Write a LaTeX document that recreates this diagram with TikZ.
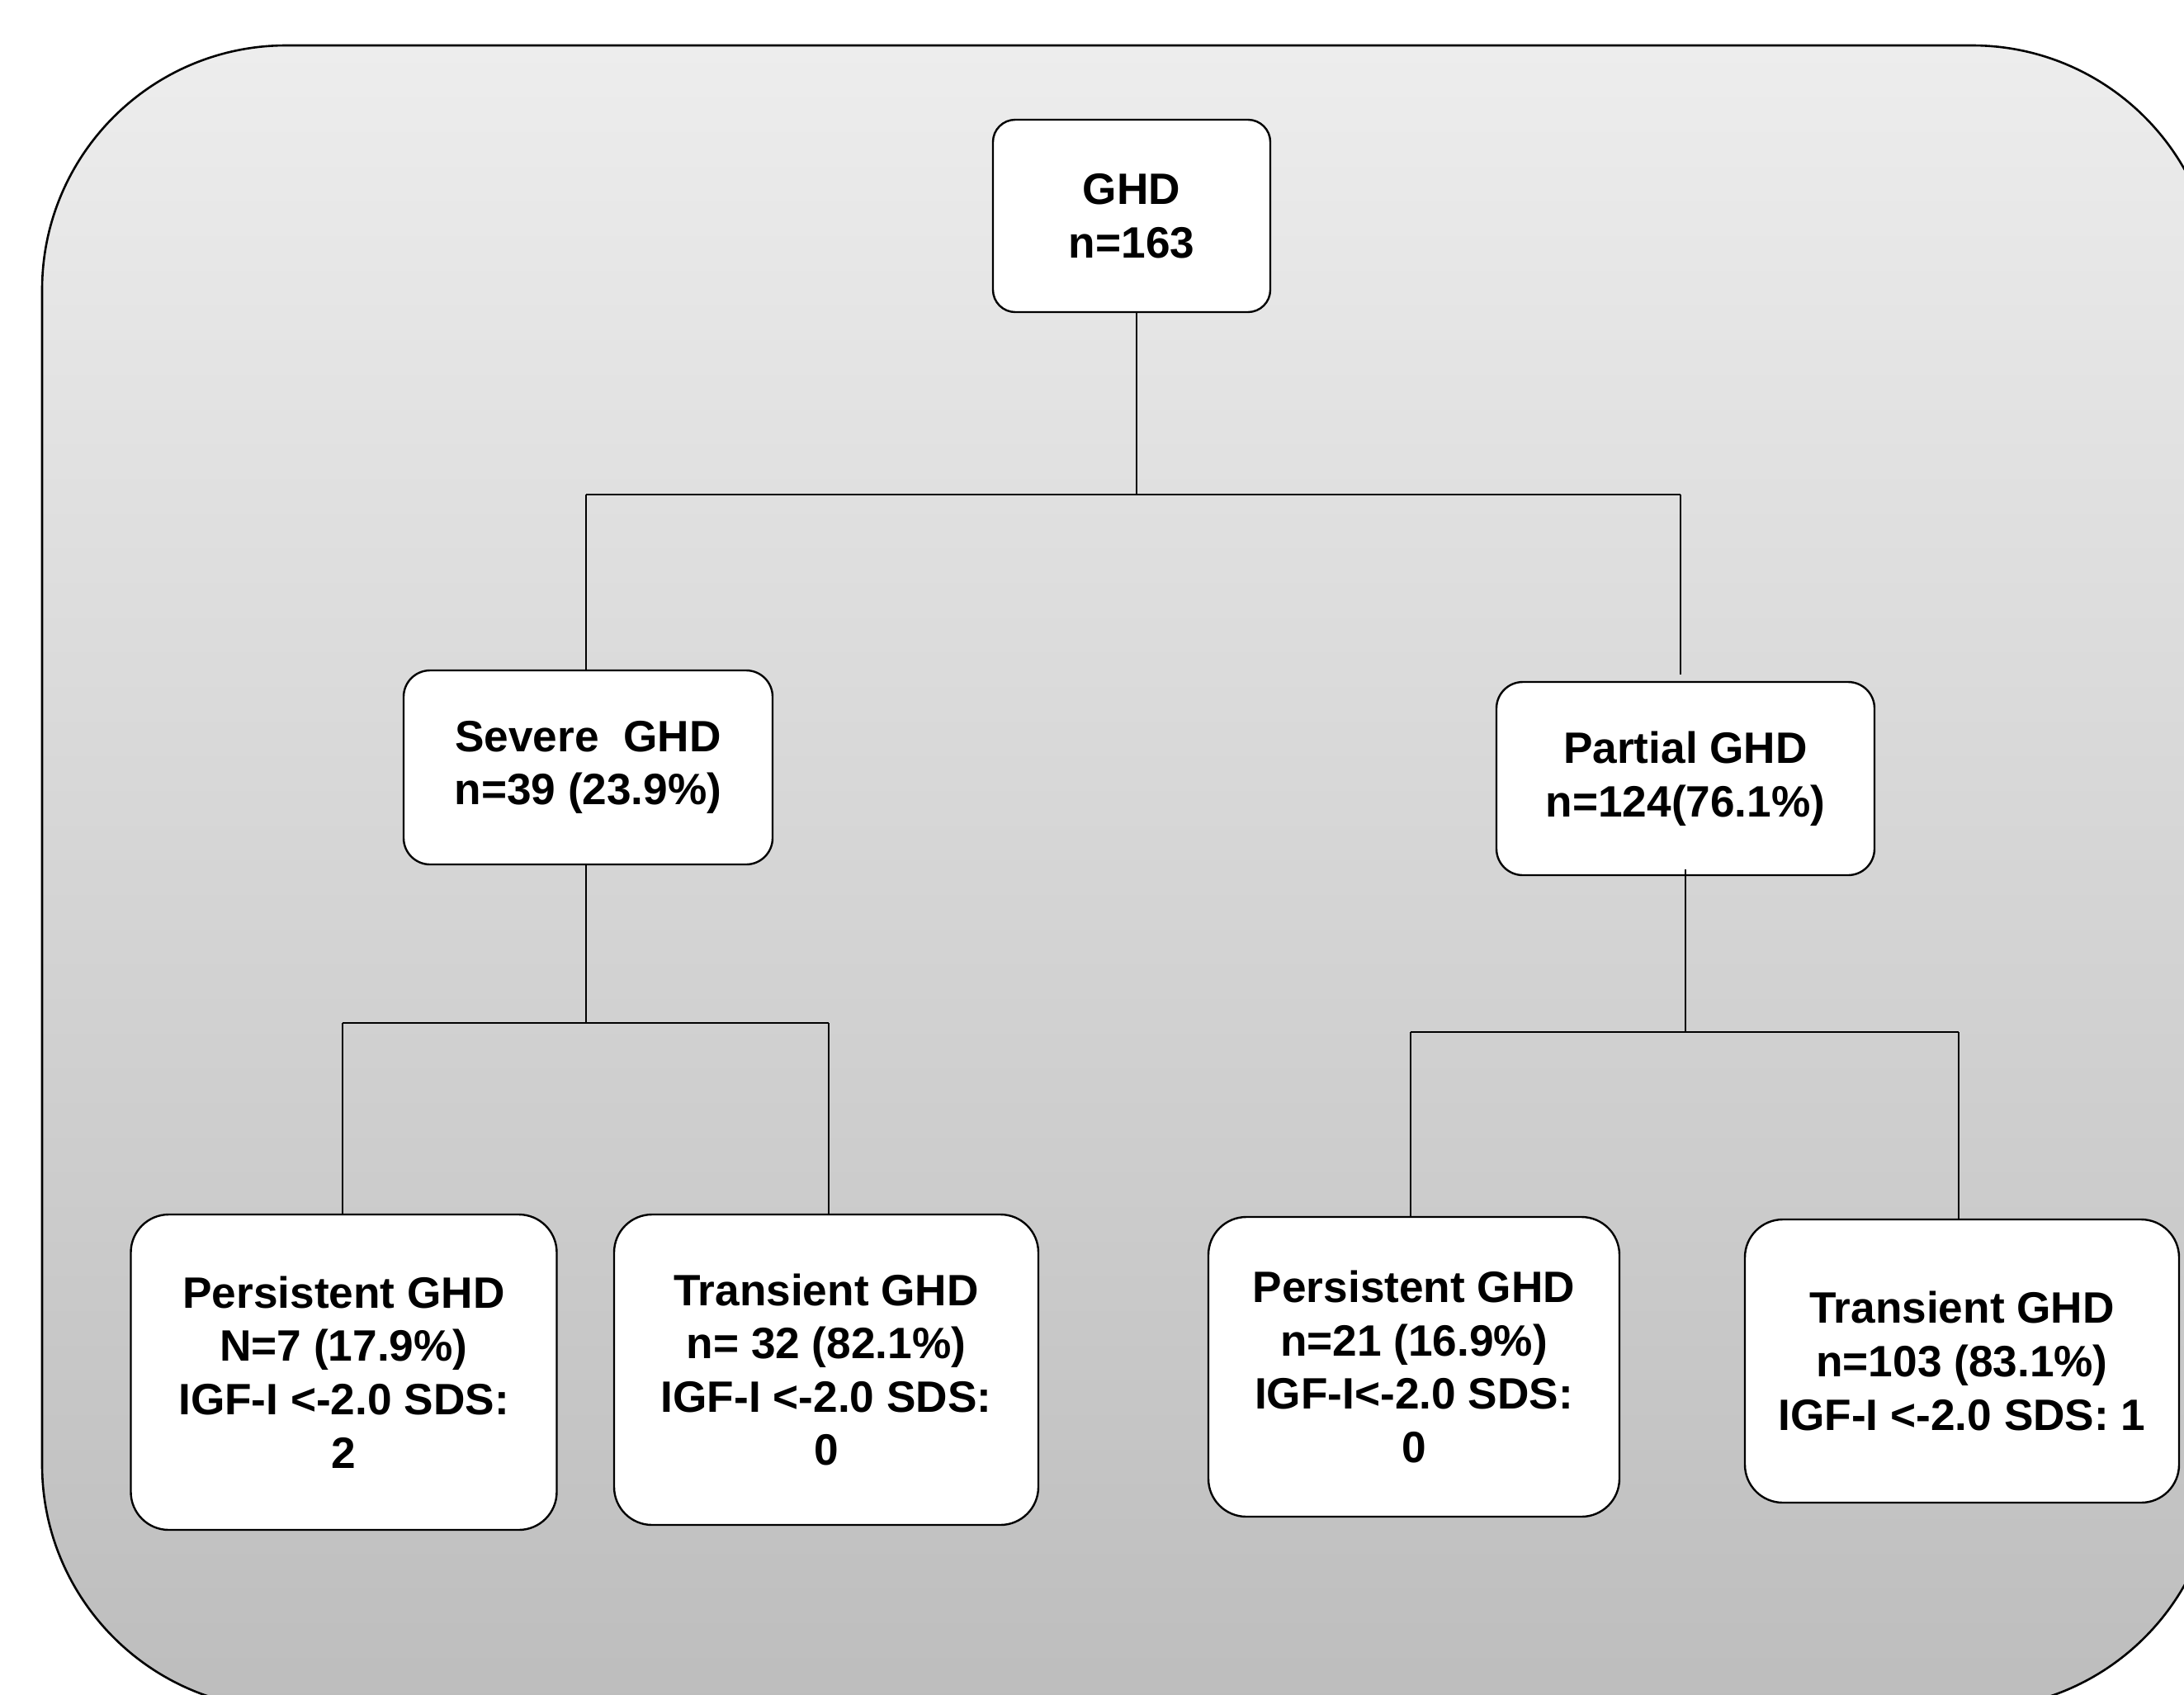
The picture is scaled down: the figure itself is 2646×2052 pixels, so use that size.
\documentclass[tikz,border=0pt]{standalone}
\usepackage{fontspec}
\setmainfont{Liberation Sans}
\definecolor{bgtop}{RGB}{237,237,237}
\definecolor{bgbot}{RGB}{189,189,189}
\begin{document}
\begin{tikzpicture}[x=0.5pt,y=-0.5pt,
  box/.style={draw=black, line width=1.2pt, fill=white, align=center, inner sep=0pt,
    font=\fontsize{26.6}{32.3}\selectfont\bfseries},
  topbox/.style={box, rounded corners=13.5pt},
  midbox/.style={box, rounded corners=16pt},
  leafbox/.style={box, rounded corners=23pt},
  link/.style={draw=black, line width=1.2pt}]
\useasboundingbox (0,0) rectangle (2646,2052);
\begin{scope}
  \clip (0,0) rectangle (2646,2052);
  \path[draw=black, line width=1.3pt, rounded corners=148pt, top color=bgtop, bottom color=bgbot]
    (51,55) rectangle (2685,2070);
\end{scope}

% nodes
\node[topbox, minimum width=168pt, minimum height=116.5pt] (ghd) at (1371,261.5) {GHD\\n=163};
\node[midbox, minimum width=223.5pt, minimum height=117.5pt] (severe) at (712.5,929.5) {Severe\ \ GHD\\n=39 (23.9\%)};
\node[midbox, minimum width=229pt, minimum height=117pt] (partial) at (2042,943) {Partial GHD\\n=124(76.1\%)};
\node[leafbox, minimum width=258pt, minimum height=191pt] (pers1) at (416.5,1662) {Persistent GHD\\N=7 (17.9\%)\\IGF-I <-2.0 SDS:\\2};
\node[leafbox, minimum width=257pt, minimum height=188pt] (trans1) at (1001,1659) {Transient GHD\\n= 32 (82.1\%)\\IGF-I <-2.0 SDS:\\0};
\node[leafbox, minimum width=249pt, minimum height=181.5pt] (pers2) at (1713,1655.5) {Persistent GHD\\n=21 (16.9\%)\\IGF-I<-2.0 SDS:\\0};
\node[leafbox, minimum width=263pt, minimum height=171.5pt] (trans2) at (2377,1648.5) {Transient GHD\\n=103 (83.1\%)\\IGF-I <-2.0 SDS: 1};

% junction coordinates
\coordinate (h1L) at (710,599);
\coordinate (h1R) at (2036,599);
\coordinate (h2L) at (415,1239);
\coordinate (h2R) at (1004,1239);
\coordinate (h3L) at (1709,1250);
\coordinate (h3R) at (2373,1250);

% connectors
\draw[link] ([xshift=3pt]ghd.south) -- ([xshift=3pt]ghd.south |- h1L);
\draw[link] (h1L) -- (h1R);
\draw[link] (h1L) -- (h1L |- severe.north);
\draw[link] (h1R) -- ([yshift=4pt]h1R |- partial.north);

\draw[link] ([xshift=-1.25pt]severe.south) -- ([xshift=-1.25pt]severe.south |- h2L);
\draw[link] (h2L) -- (h2R);
\draw[link] (h2L) -- (h2L |- pers1.north);
\draw[link] (h2R) -- (h2R |- trans1.north);

\draw[link] ([yshift=4pt]partial.south) -- (partial.south |- h3L);
\draw[link] (h3L) -- (h3R);
\draw[link] (h3L) -- (h3L |- pers2.north);
\draw[link] (h3R) -- (h3R |- trans2.north);
\end{tikzpicture}
\end{document}
